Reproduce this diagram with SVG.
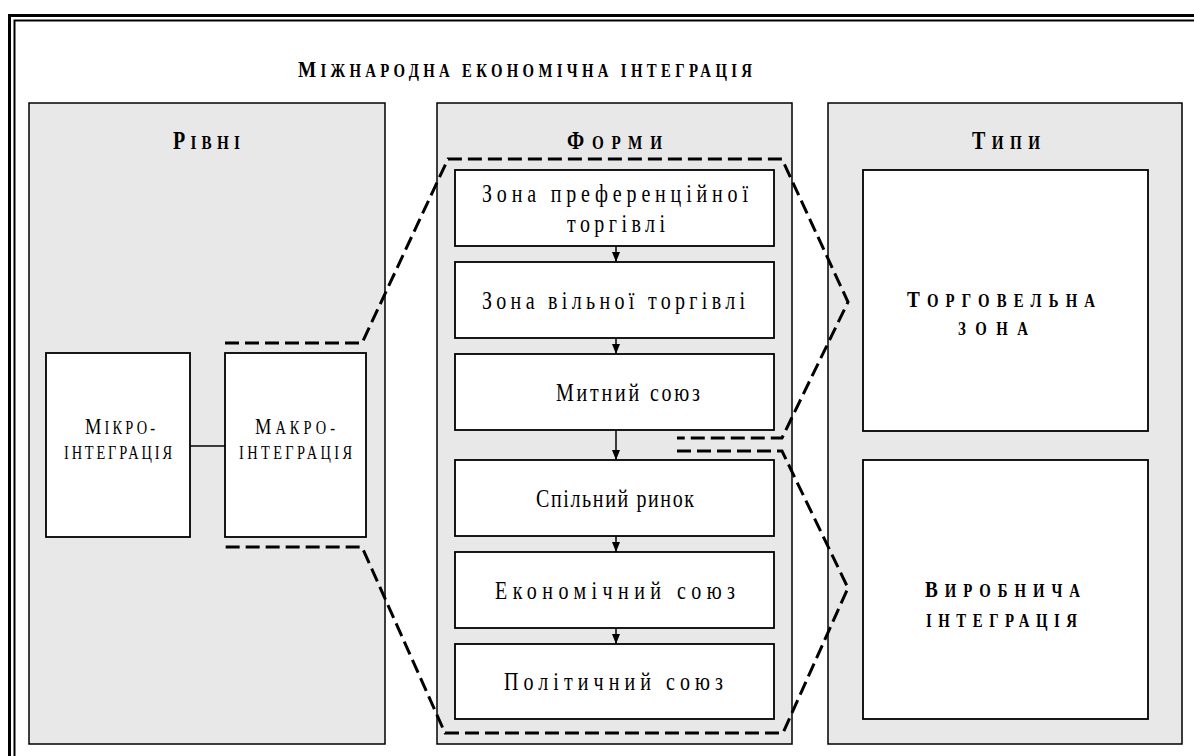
<svg xmlns="http://www.w3.org/2000/svg" width="1194" height="756" viewBox="0 0 1194 756">
<defs>
<marker id="ah" markerUnits="userSpaceOnUse" markerWidth="10" markerHeight="8" refX="10" refY="4" orient="auto">
<path d="M0,0 L10,4 L0,8 z" fill="#000"/>
</marker>
<style>
.panel{fill:#e8e8e8;stroke:#000;stroke-width:1.5}
.box{fill:#fff;stroke:#000;stroke-width:1.8}
.t{font-family:"Liberation Serif","Times New Roman",serif;fill:#000}
.b{font-weight:bold}
.m{font-size:25px}
.dash{fill:none;stroke:#000;stroke-width:3;stroke-dasharray:14 6}
.conn{stroke:#000;stroke-width:1.5;fill:none}
</style>
</defs>
<rect width="1194" height="756" fill="#fff"/>
<g id="frame" fill="none" stroke="#000">
<path d="M9.5,756 V15.5 H1194" stroke-width="3"/>
<path d="M14.5,756 V20.5 H1194" stroke-width="2"/>
</g>
<text id="title" class="t b" transform="scale(0.8,1)" x="372.5" y="77" textLength="567.5" lengthAdjust="spacing"><tspan font-size="24">М</tspan><tspan font-size="18.5">ІЖНАРОДНА ЕКОНОМІЧНА ІНТЕГРАЦІЯ</tspan></text>

<g id="panel-levels">
<rect class="panel" x="29" y="103" width="356" height="641"/>
<text class="t b" transform="scale(0.8,1)" x="216.25" y="149" textLength="83.75" lengthAdjust="spacing"><tspan font-size="25">Р</tspan><tspan font-size="19">ІВНІ</tspan></text>
</g>
<g id="panel-forms">
<rect class="panel" x="437" y="103" width="355" height="641"/>
<text class="t b" transform="scale(0.8,1)" x="708.75" y="149" textLength="118.75" lengthAdjust="spacing"><tspan font-size="25">Ф</tspan><tspan font-size="19">ОРМИ</tspan></text>
</g>
<g id="panel-types">
<rect class="panel" x="828" y="103" width="354" height="641"/>
<text class="t b" transform="scale(0.8,1)" x="1215" y="149" textLength="85" lengthAdjust="spacing"><tspan font-size="25">Т</tspan><tspan font-size="19">ИПИ</tspan></text>
</g>

<g id="micro">
<rect class="box" x="46" y="353" width="144" height="184"/>
<text class="t" transform="scale(0.8,1)" x="106.25" y="434" textLength="87.5" lengthAdjust="spacing"><tspan font-size="23">М</tspan><tspan font-size="18">ІКРО-</tspan></text>
<text class="t" transform="scale(0.8,1)" x="80" y="459" font-size="18" textLength="135" lengthAdjust="spacing">ІНТЕГРАЦІЯ</text>
</g>
<g id="macro">
<rect class="box" x="225" y="353" width="141" height="184"/>
<text class="t" transform="scale(0.8,1)" x="318.75" y="434" textLength="100" lengthAdjust="spacing"><tspan font-size="23">М</tspan><tspan font-size="18">АКРО-</tspan></text>
<text class="t" transform="scale(0.8,1)" x="298.75" y="459" font-size="18" textLength="141.25" lengthAdjust="spacing">ІНТЕГРАЦІЯ</text>
</g>

<g id="form1">
<rect class="box" x="455" y="170" width="319" height="76"/>
<text class="t m" transform="scale(0.8,1)" x="602.5" y="202" textLength="332.5" lengthAdjust="spacing">Зона преференційної</text>
<text class="t m" transform="scale(0.8,1)" x="708.75" y="232" textLength="122.5" lengthAdjust="spacing">торгівлі</text>
</g>
<g id="form2">
<rect class="box" x="455" y="262" width="319" height="76"/>
<text class="t m" transform="scale(0.8,1)" x="602.5" y="309" textLength="328.75" lengthAdjust="spacing">Зона вільної торгівлі</text>
</g>
<g id="form3">
<rect class="box" x="455" y="354" width="319" height="76"/>
<text class="t m" transform="scale(0.8,1)" x="695" y="401" textLength="180" lengthAdjust="spacing">Митний союз</text>
</g>
<g id="form4">
<rect class="box" x="455" y="460" width="319" height="76"/>
<text class="t m" transform="scale(0.8,1)" x="670" y="507" textLength="197.5" lengthAdjust="spacing">Спільний ринок</text>
</g>
<g id="form5">
<rect class="box" x="455" y="552" width="319" height="76"/>
<text class="t m" transform="scale(0.8,1)" x="618.75" y="599" textLength="300" lengthAdjust="spacing">Економічний союз</text>
</g>
<g id="form6">
<rect class="box" x="455" y="644" width="319" height="75"/>
<text class="t m" transform="scale(0.8,1)" x="630" y="690" textLength="273.75" lengthAdjust="spacing">Політичний союз</text>
</g>

<g id="type-trade">
<rect class="box" x="863" y="170" width="285" height="261"/>
<text class="t b" transform="scale(0.8,1)" x="1133.75" y="307" textLength="235" lengthAdjust="spacing"><tspan font-size="24">Т</tspan><tspan font-size="18.5">ОРГОВЕЛЬНА</tspan></text>
<text class="t b" transform="scale(0.8,1)" x="1197.5" y="335" font-size="18.5" textLength="87.5" lengthAdjust="spacing">ЗОНА</text>
</g>
<g id="type-production">
<rect class="box" x="863" y="460" width="285" height="259"/>
<text class="t b" transform="scale(0.8,1)" x="1156.25" y="597" textLength="193.75" lengthAdjust="spacing"><tspan font-size="24">В</tspan><tspan font-size="18.5">ИРОБНИЧА</tspan></text>
<text class="t b" transform="scale(0.8,1)" x="1157.5" y="627" font-size="18.5" textLength="188.75" lengthAdjust="spacing">ІНТЕГРАЦІЯ</text>
</g>

<g id="connectors">
<line class="conn" x1="190" y1="446" x2="225" y2="446"/>
<line class="conn" x1="616" y1="246" x2="616" y2="262" marker-end="url(#ah)"/>
<line class="conn" x1="616" y1="338" x2="616" y2="354" marker-end="url(#ah)"/>
<line class="conn" x1="616" y1="430" x2="616" y2="460" marker-end="url(#ah)"/>
<line class="conn" x1="616" y1="536" x2="616" y2="552" marker-end="url(#ah)"/>
<line class="conn" x1="616" y1="628" x2="616" y2="644" marker-end="url(#ah)"/>
<polyline class="dash" points="225,343 362,343 448,159 782,159 848,302 782,438 677,438"/>
<polyline class="dash" points="677,451 782,451 848,588 783,733 445,733 362,547 225,547"/>
</g>
</svg>
